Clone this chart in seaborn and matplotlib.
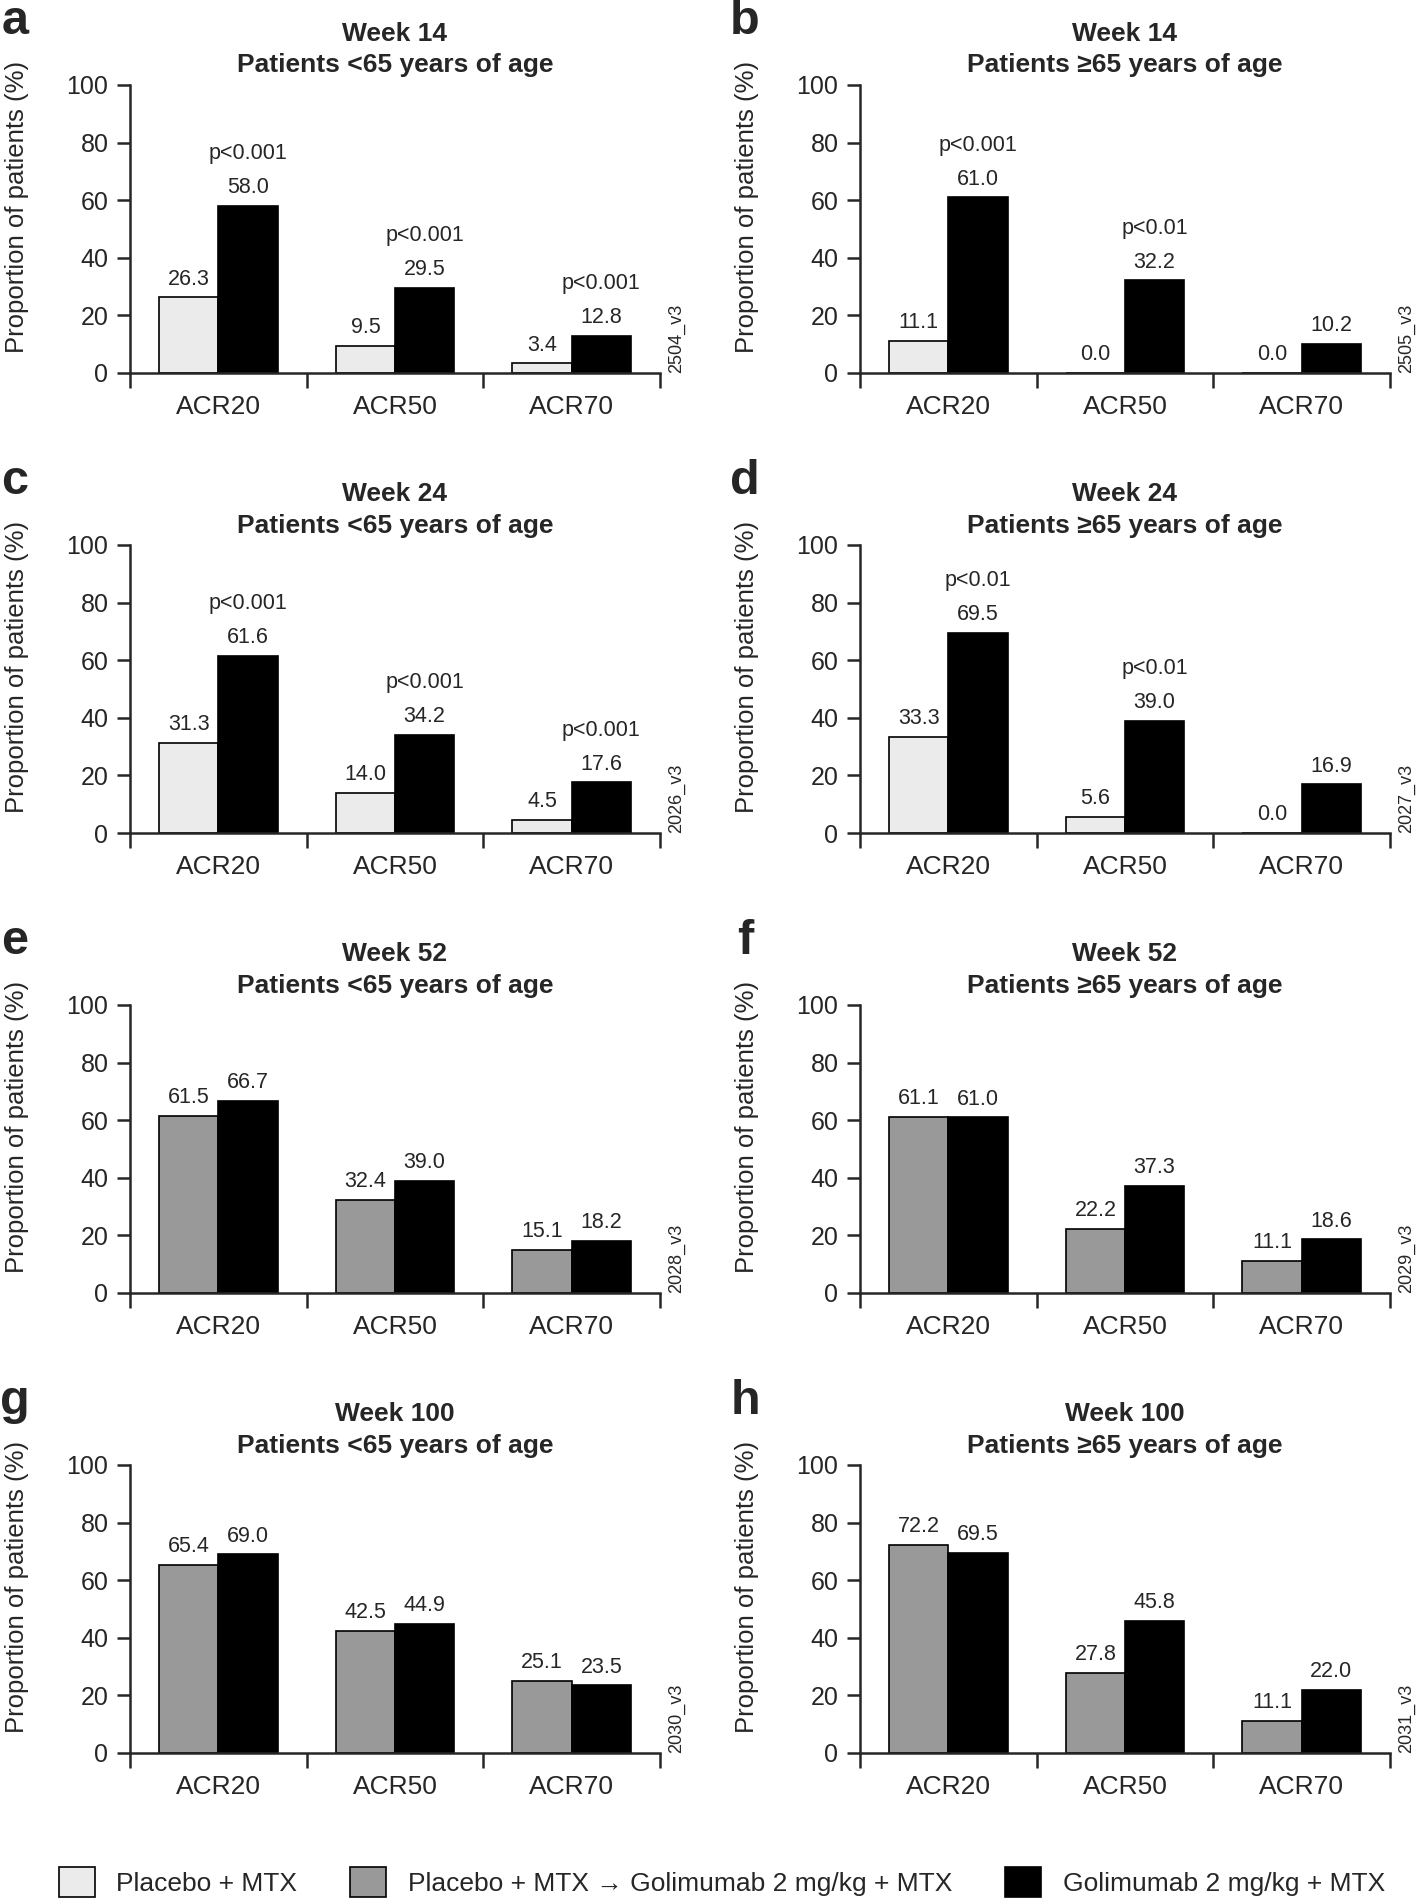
import numpy as np
import pandas as pd
import matplotlib
matplotlib.use('Agg')
import matplotlib.pyplot as plt
from matplotlib.patches import Patch
import seaborn as sns

# categories and series
measures = ['ACR20', 'ACR50', 'ACR70']

placebo = 'Placebo + MTX'
switch = 'Placebo + MTX \u2192 Golimumab 2 mg/kg + MTX'
golim = 'Golimumab 2 mg/kg + MTX'

panel_letters = ['a', 'b', 'c', 'd', 'e', 'f', 'g', 'h']
weeks = ['Week 14', 'Week 14', 'Week 24', 'Week 24',
         'Week 52', 'Week 52', 'Week 100', 'Week 100']
ages = ['Patients <65 years of age', 'Patients \u226565 years of age'] * 4
codes = ['2504_v3', '2505_v3', '2026_v3', '2027_v3',
         '2028_v3', '2029_v3', '2030_v3', '2031_v3']
comparators = [placebo] * 4 + [switch] * 4

# comparator arm (placebo or placebo -> golimumab) per panel
comp_a = [26.3, 9.5, 3.4]
comp_b = [11.1, 0.0, 0.0]
comp_c = [31.3, 14.0, 4.5]
comp_d = [33.3, 5.6, 0.0]
comp_e = [61.5, 32.4, 15.1]
comp_f = [61.1, 22.2, 11.1]
comp_g = [65.4, 42.5, 25.1]
comp_h = [72.2, 27.8, 11.1]

# golimumab arm per panel
gol_a = [58.0, 29.5, 12.8]
gol_b = [61.0, 32.2, 10.2]
gol_c = [61.6, 34.2, 17.6]
gol_d = [69.5, 39.0, 16.9]
gol_e = [66.7, 39.0, 18.2]
gol_f = [61.0, 37.3, 18.6]
gol_g = [69.0, 44.9, 23.5]
gol_h = [69.5, 45.8, 22.0]

# p-values over the golimumab bars
pv_a = ['p<0.001', 'p<0.001', 'p<0.001']
pv_b = ['p<0.001', 'p<0.01', '']
pv_c = ['p<0.001', 'p<0.001', 'p<0.001']
pv_d = ['p<0.01', 'p<0.01', '']
pv_none = ['', '', '']

comp_vals = [comp_a, comp_b, comp_c, comp_d, comp_e, comp_f, comp_g, comp_h]
gol_vals = [gol_a, gol_b, gol_c, gol_d, gol_e, gol_f, gol_g, gol_h]
pvals = [pv_a, pv_b, pv_c, pv_d, pv_none, pv_none, pv_none, pv_none]

palette = {placebo: '#ebebeb', switch: '#999999', golim: '#000000'}

sns.set_style('white')
plt.rcParams['font.family'] = ['Liberation Sans', 'DejaVu Sans']
plt.rcParams['axes.linewidth'] = 1.8

W, H = 1417, 1898
fig = plt.figure(figsize=(W / 100, H / 100), dpi=100)

for i in range(8):
    row, col = divmod(i, 2)
    left_px = [130, 860][col]
    zero_px = 373 + 460 * row
    ax = fig.add_axes([left_px / W, 1 - zero_px / H, 530 / W, 288 / H])

    df = pd.DataFrame({
        'measure': measures * 2,
        'group': [comparators[i]] * 3 + [golim] * 3,
        'value': comp_vals[i] + gol_vals[i],
    })
    sns.barplot(data=df, x='measure', y='value', hue='group',
                hue_order=[comparators[i], golim], palette=palette,
                saturation=1, width=0.67, gap=0, edgecolor='black',
                linewidth=1.2, errorbar=None, legend=False, ax=ax)

    for cont in ax.containers:
        ax.bar_label(cont, fmt='%.1f', padding=5.5, fontsize=15.5)

    gol_bars = ax.containers[1]
    for bar, p in zip(gol_bars, pvals[i]):
        if p:
            ax.annotate(p, xy=(bar.get_x() + bar.get_width() / 2, bar.get_height()),
                        xytext=(0, 30), textcoords='offset points',
                        ha='center', va='bottom', fontsize=15.5)

    ax.set_ylim(0, 100)
    ax.set_yticks(range(0, 101, 20))
    ax.set_xlim(-0.5, 2.5)
    ax.set_xticks([-0.5, 0.5, 1.5, 2.5], minor=True)
    ax.tick_params(axis='x', which='major', length=0, pad=16, labelsize=19)
    ax.tick_params(axis='x', which='minor', length=11, width=1.8, direction='out')
    ax.tick_params(axis='y', length=9.5, width=1.8, direction='out', pad=6, labelsize=18)
    ax.tick_params(bottom=True, left=True, which='both')
    sns.despine(ax=ax)

    ax.set_xlabel('')
    ax.set_ylabel('Proportion of patients (%)', fontsize=18.5)
    ax.yaxis.set_label_coords(-0.19, 0.575)

    ax.set_title(f'{weeks[i]}\n{ages[i]}', fontsize=19, fontweight='bold',
                 pad=9, linespacing=1.4)

    ax.text(1.032, 0.0, codes[i], transform=ax.transAxes, rotation=90,
            ha='center', va='bottom', fontsize=13)

    fig.text((left_px - 115) / W, 1 - (zero_px - 351) / H, panel_letters[i],
             fontsize=35, fontweight='bold', ha='center', va='center')

handles = [Patch(facecolor=palette[g], edgecolor='black', linewidth=1.2)
           for g in [placebo, switch, golim]]
fig.legend(handles, [placebo, switch, golim], loc='lower center',
           bbox_to_anchor=(0.5095, 0.0), ncol=3, frameon=False, fontsize=19,
           handlelength=1.36, handleheight=1.33, handletextpad=0.83,
           columnspacing=2.0, borderpad=0.05, borderaxespad=0.0)

fig.savefig('out.png', dpi=100)
plt.close(fig)
